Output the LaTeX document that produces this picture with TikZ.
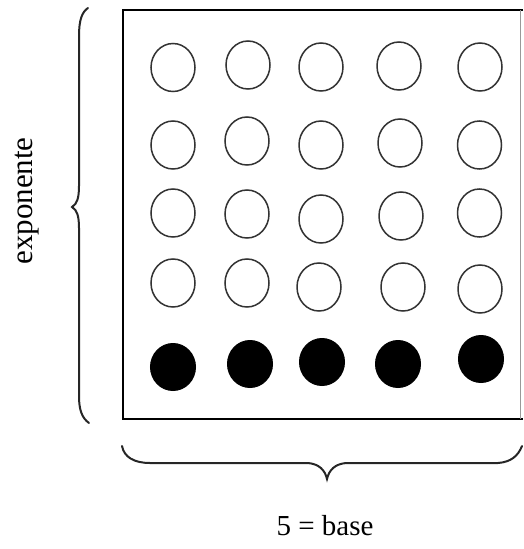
\documentclass[tikz,border=0pt]{standalone}
\usepackage{fontspec}
\setmainfont{Liberation Serif}
\begin{document}
\begin{tikzpicture}[x=1pt,y=-1pt,
  ring/.style={draw=black!80,line width=1.5pt},
  dot/.style={fill=black,draw=black,line width=1pt},
  bracepath/.style={draw=black!85,line width=2pt,line cap=round},
  lbl/.style={font=\fontsize{29}{32}\selectfont,inner sep=0pt}]
\useasboundingbox (0,0) rectangle (523,549);
% frame
\draw[line width=2.6pt] (523,10) -- (123,10) -- (123,419) -- (523,419);
\draw[line width=0.8pt,black!40] (520,10) -- (520,419);
% open circles
\foreach \x/\y in {173/67.5,248/65,321/67,399/66,480/67,
                   173/145,247/141,321/145,400/143,479.5/145,
                   173/213,247/214,321/219,401/216,479.5/213,
                   173/283,247/283,319/287,403/287,480/289}
  \draw[ring] (\x,\y) ellipse [x radius=22, y radius=24];
% filled circles
\foreach \x/\y in {173/367,250/364,322/362,398/364,481/359}
  \draw[dot] (\x,\y) ellipse [x radius=22.5, y radius=23.5];
% left brace
\draw[bracepath] (88,8) .. controls (82,12) and (79,20) .. (79,36) -- (79,186)
  .. controls (79,198) and (77,204) .. (72,207)
  .. controls (77,210) and (79,216) .. (79,228) -- (79,396)
  .. controls (79,410) and (82,418) .. (89,423);
% bottom brace
\draw[bracepath] (122,446) .. controls (124,457) and (134,463) .. (150,463) -- (308,463)
  .. controls (319,464) and (325,470) .. (327,479)
  .. controls (329,470) and (335,464) .. (346,463) -- (498,463)
  .. controls (511,462) and (518,456) .. (522,446);
% labels
\node[lbl,font=\fontsize{31}{34}\selectfont,rotate=90] (expo) at (27,201) {exponente};
\node[lbl] (base) at (325,526) {5 = base};
\end{tikzpicture}
\end{document}
